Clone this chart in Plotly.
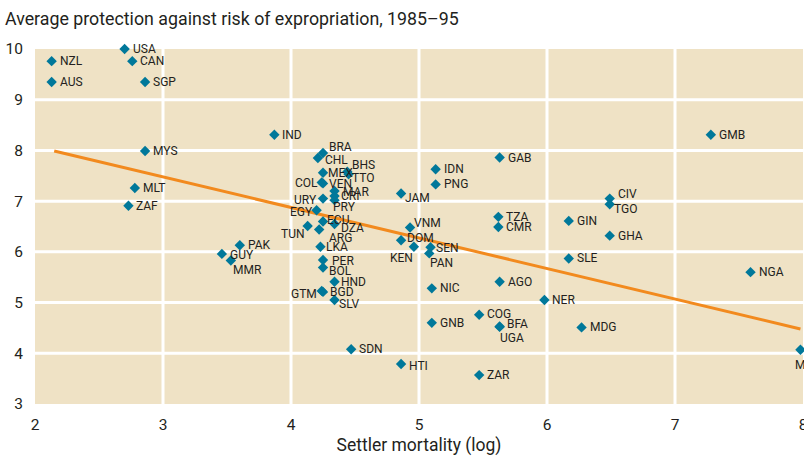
import plotly.graph_objects as go

codes = ["NZL","AUS","USA","CAN","SGP","MYS","MLT","ZAF","IND","PAK","GUY","MMR",
         "BRA","CHL","MEX","BHS","TTO","COL","VEN","MAR","CRI","PRY","URY","EGY",
         "ECU","DZA","TUN","ARG","LKA","PER","BOL","HND","GTM","BGD","SLV","SDN",
         "HTI","JAM","IDN","PNG","GAB","VNM","DOM","KEN","SEN","PAN","TZA","CMR",
         "NIC","AGO","NER","COG","GNB","BFA","UGA","ZAR","GIN","CIV","TGO","GHA",
         "SLE","MDG","NGA","GMB","MLI"]
settler_mortality = [2.13,2.13,2.70,2.76,2.86,2.86,2.78,2.73,3.87,3.60,3.46,3.53,
                     4.25,4.21,4.25,4.44,4.45,4.24,4.25,4.34,4.34,4.34,4.25,4.20,
                     4.25,4.34,4.13,4.22,4.23,4.25,4.25,4.34,4.24,4.25,4.34,4.47,
                     4.86,4.86,5.13,5.13,5.63,4.93,4.86,4.96,5.09,5.08,5.62,5.62,
                     5.10,5.63,5.98,5.47,5.10,5.63,5.63,5.47,6.17,6.49,6.49,6.49,
                     6.17,6.27,7.59,7.28,7.98]
expropriation = [9.76,9.35,10.0,9.76,9.35,7.99,7.26,6.91,8.31,6.13,5.96,5.83,
                 7.95,7.85,7.56,7.58,7.53,7.37,7.35,7.20,7.10,7.02,7.05,6.82,
                 6.60,6.55,6.51,6.44,6.10,5.84,5.69,5.41,5.23,5.21,5.05,4.08,
                 3.79,7.15,7.63,7.33,7.86,6.48,6.23,6.10,6.09,5.97,6.69,6.49,
                 5.28,5.41,5.05,4.76,4.60,4.53,4.52,3.57,6.61,7.05,6.94,6.32,
                 5.87,4.51,5.60,8.31,4.07]
fit_x = [2.15, 7.98]
fit_y = [7.99, 4.48]
x_ticks = [2, 3, 4, 5, 6, 7, 8]
y_ticks = [3, 4, 5, 6, 7, 8, 9, 10]

FONT = "Roboto, sans-serif"
TEXT_COL = "#231f20"
MARKER_COL = "#00789a"
LINE_COL = "#f28a1e"
BG = "#efe2c5"

# label placement: (xanchor, dx px, dy px downward)
label_pos = {
    "BRA": ("left", 5, -6), "CHL": ("left", 6, 2), "MEX": ("left", 4, 0),
    "BHS": ("left", 4, -7), "TTO": ("left", 2, 4), "COL": ("right", -3, 1),
    "VEN": ("left", 5, 1), "MAR": ("left", 7, 1), "CRI": ("left", 5, 0),
    "PRY": ("left", -3, 7), "URY": ("right", -5, 1), "EGY": ("right", -3, 2),
    "ECU": ("left", 3, -1), "DZA": ("left", 5, 4), "TUN": ("right", -2, 8),
    "ARG": ("left", 9, 8), "LKA": ("left", 5, 0), "PER": ("left", 8, 1),
    "BOL": ("left", 5, 3), "HND": ("left", 5, 0), "GTM": ("right", -4, 3),
    "BGD": ("left", 6, 0), "SLV": ("left", 3, 4), "GUY": ("left", 7, 1),
    "MMR": ("left", 1, 10), "HTI": ("left", 7, 2), "JAM": ("left", 3, 4),
    "VNM": ("left", 3, -5), "DOM": ("left", 5, -2), "KEN": ("right", 0, 11),
    "SEN": ("left", 4, 1), "PAN": ("left", 0, 10), "UGA": ("left", -1, 11),
    "CIV": ("left", 7, -5), "TGO": ("left", 3, 5), "MLI": ("left", -6, 15),
    "COG": ("left", 7, -1), "BFA": ("left", 6, -2),
}

fig = go.Figure()

# white gridlines drawn at the axis tick values
shapes = []
for xv in x_ticks[1:-1]:
    shapes.append(dict(type="line", xref="x", yref="paper", x0=xv, x1=xv, y0=0, y1=1,
                       line=dict(color="white", width=3), layer="below"))
for yv in y_ticks[1:-1]:
    shapes.append(dict(type="line", xref="paper", yref="y", x0=0, x1=1, y0=yv, y1=yv,
                       line=dict(color="white", width=3), layer="below"))

fig.add_trace(go.Scatter(x=fit_x, y=fit_y, mode="lines",
                         line=dict(color=LINE_COL, width=3), hoverinfo="skip",
                         showlegend=False))
fig.add_trace(go.Scatter(x=settler_mortality, y=expropriation, mode="markers",
                         marker=dict(symbol="diamond", size=8, color=MARKER_COL),
                         text=codes, cliponaxis=False, showlegend=False))

annotations = []
for c, xv, yv in zip(codes, settler_mortality, expropriation):
    anc, dx, dy = label_pos.get(c, ("left", 7, 0))
    annotations.append(dict(x=xv, y=yv, xref="x", yref="y", text=c, showarrow=False,
                            xanchor=anc, yanchor="middle", xshift=dx, yshift=-dy,
                            font=dict(family=FONT, size=12, color=TEXT_COL),
                            borderpad=0))

W, H = 804, 458
fig.update_layout(
    width=W, height=H,
    margin=dict(l=35, r=1, t=49, b=54),
    paper_bgcolor="white", plot_bgcolor=BG,
    shapes=shapes, annotations=annotations,
    title=dict(text="Average protection against risk of expropriation, 1985–95",
               x=5/W, xref="container", xanchor="left",
               y=1-19/H, yref="container", yanchor="middle",
               font=dict(family=FONT, size=17.8, color=TEXT_COL)),
    xaxis=dict(range=[2, 8], tickvals=x_ticks, showgrid=False,
               zeroline=False, showline=False, ticks="",
               automargin=False, ticklabelstandoff=9, ticklabeloverflow="allow",
               tickfont=dict(family=FONT, size=15.5, color=TEXT_COL),
               title=dict(text="Settler mortality (log)", standoff=6,
                          font=dict(family=FONT, size=17.5, color=TEXT_COL))),
    yaxis=dict(range=[3, 10], tickvals=y_ticks, showgrid=False,
               zeroline=False, showline=False, ticks="",
               automargin=False, ticklabelstandoff=11,
               tickfont=dict(family=FONT, size=15.5, color=TEXT_COL)),
)

fig.write_html(
    "out.html",
    config={"displayModeBar": False},
    post_script="document.body.style.margin='0';"
                "document.body.style.overflow='hidden';"
                "document.documentElement.style.overflow='hidden';",
)
